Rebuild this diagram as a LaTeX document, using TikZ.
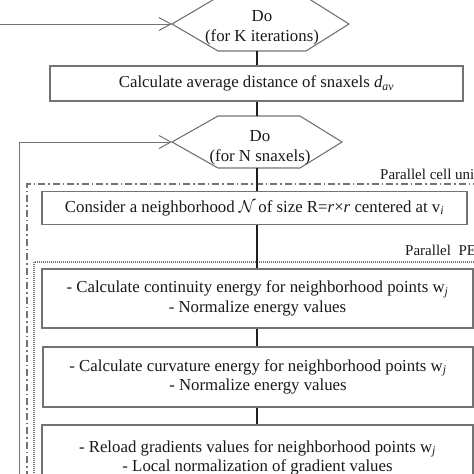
\documentclass[tikz,border=0pt]{standalone}
\usepackage{fontspec}
\setmainfont{Liberation Serif}
\usetikzlibrary{arrows.meta}
\definecolor{boxgray}{gray}{0.45}
\definecolor{linegray}{gray}{0.12}
\definecolor{txt}{gray}{0.1}
\begin{document}
\begin{tikzpicture}[x=1pt,y=1pt,
  every node/.style={text=txt,font=\fontsize{16.8}{19.5}\selectfont},
  procbox/.style={draw=boxgray,line width=1.1pt,align=center,inner sep=0pt},
  hexline/.style={draw=boxgray,line width=1.1pt},
  conn/.style={draw=linegray,line width=1.3pt},
  arr/.style={draw=boxgray,line width=1pt,-{Straight Barb[length=12pt,width=13pt]}},
  groupcell/.style={draw=boxgray,line width=1.1pt,dash pattern=on 7pt off 3pt on 1.5pt off 3pt},
  grouppe/.style={draw=boxgray,line width=1.1pt,dash pattern=on 1pt off 1pt},
  grouplabel/.style={font=\fontsize{15}{17}\selectfont,anchor=west,inner sep=0pt}
]
\useasboundingbox (0,0) rectangle (474,-474);

% hexagon 1
\draw[hexline] (172,-24) -- (218,3) -- (306,3) -- (349,-24) -- (306,-51) -- (218,-51) -- cycle;
\node[align=center,inner sep=0pt] (h1) at (262,-28) {Do\\(for K iterations)};
\coordinate (h1w) at (172,-24);
\coordinate (h1s) at (257,-51);
\coordinate (in1) at (0,-24);

% box 1
\node[procbox,minimum width=413pt,minimum height=35pt] (b1) at (256.5,-83.5)
  {Calculate average distance of snaxels \textit{d}\textsubscript{\textit{av}}};

% hexagon 2
\draw[hexline] (172,-142) -- (218,-116) -- (300,-116) -- (342,-142) -- (300,-168) -- (218,-168) -- cycle;
\node[align=center,inner sep=0pt] (h2) at (260,-148) {Do\\(for N snaxels)};
\coordinate (h2w) at (172,-142);
\coordinate (h2n) at (257,-116);
\coordinate (h2s) at (257,-168);
\coordinate (loopb) at (19,-480);
\coordinate (loopt) at (19,-142);

% groups
\draw[groupcell] (480,-184) -- (27,-184) -- (27,-480);
\node[grouplabel] (gl1) at (380,-174) {Parallel cell unit};
\draw[grouppe] (480,-262) -- (34,-262) -- (34,-480);
\node[grouplabel] (gl2) at (405,-250) {Parallel\ \ PE};

% box 2
\node[procbox,minimum width=425pt,minimum height=33pt] (b2) at (254.5,-208)
  {Consider a neighborhood $\mathcal{N}$\,of size R=\textit{r}×\textit{r} centered at v\textsubscript{\textit{i}}};

% box 3
\node[procbox,minimum width=431pt,minimum height=59pt] (b3) at (257.5,-298.5)
  {- Calculate continuity energy for neighborhood points w\textsubscript{\textit{j}}\\- Normalize energy values};

% box 4
\node[procbox,minimum width=430pt,minimum height=60pt] (b4) at (258,-377)
  {- Calculate curvature energy for neighborhood points w\textsubscript{\textit{j}}\\- Normalize energy values};

% box 5
\node[procbox,minimum width=431pt,minimum height=66pt] (b5) at (257.5,-458)
  {- Reload gradients values for neighborhood points w\textsubscript{\textit{j}}\\- Local normalization of gradient values};

% connectors
\draw[conn] (h1s) -- (h1s |- b1.north);
\draw[conn] (h1s |- b1.south) -- (h2n);
\draw[conn] (h2s) -- (h2s |- b2.north);
\draw[conn] (h2s |- b2.south) -- (h2s |- b3.north);
\draw[conn] (h2s |- b3.south) -- (h2s |- b4.north);
\draw[conn] (h2s |- b4.south) -- (h2s |- b5.north);

% feedback arrows
\draw[arr] (in1) -- (h1w);
\draw[arr] (loopb) -- (loopt) -- (h2w);
\end{tikzpicture}
\end{document}
